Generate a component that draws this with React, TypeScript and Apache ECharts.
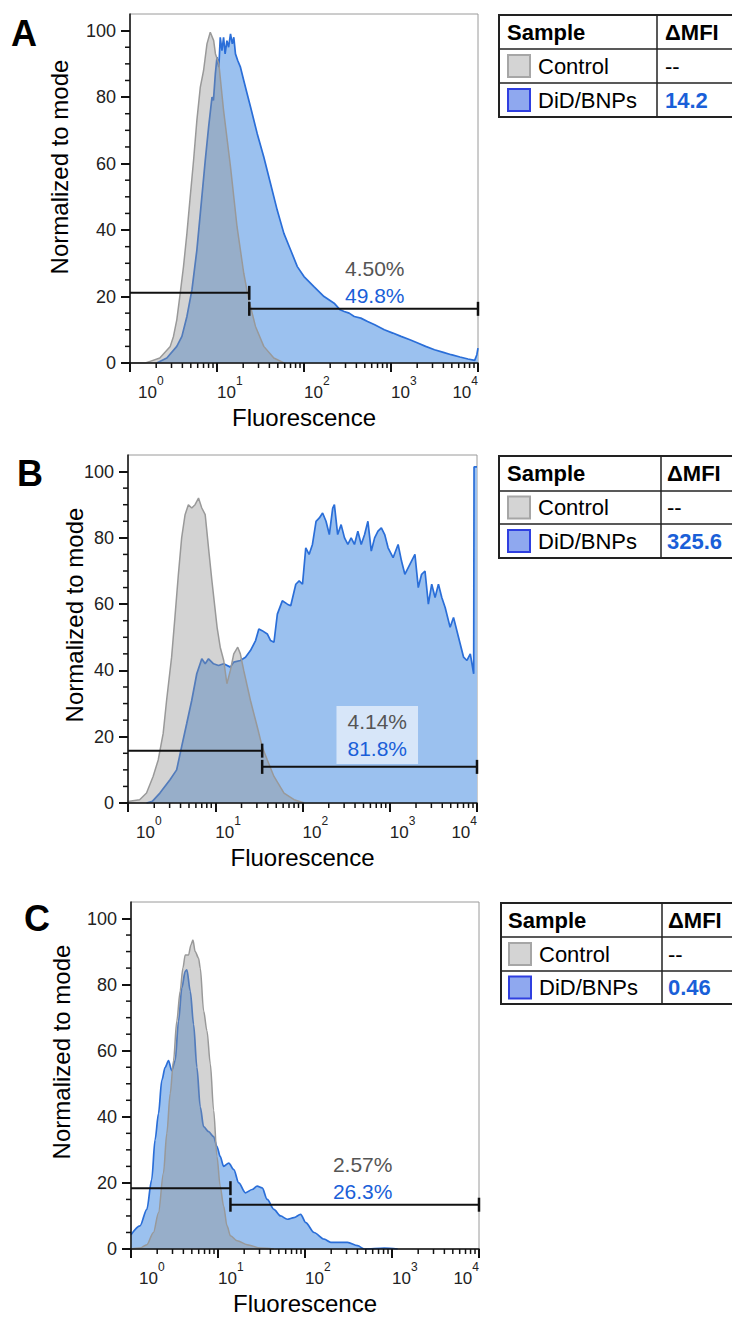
import React, { useEffect, useRef } from 'react';
import * as echarts from 'echarts';

const FONT = '"Liberation Sans", Arial, Helvetica, sans-serif';

// ---------- data: [fluorescence, % of mode] ----------
const controlA: number[][] = [[1,0],[1.5,0],[1.7,0.5],[2.2,1.5],[2.9,5],[3.16,8],[3.45,13],[3.78,21],[4.12,29],[4.51,39],[4.92,50],[5.38,61],[5.87,73],[6.43,83],[7.01,88],[7.67,96],[8.37,99.5],[9.16,97],[9.6,93],[10.5,90],[11.9,76],[14.3,59],[17.0,41],[20.3,27],[23.2,19],[27.7,11],[34.5,5],[45,1.5],[59,0]];
const didA: number[][] = [[2.03,0],[2.65,1.5],[3.45,5],[3.95,8],[4.51,14],[5.15,22],[5.87,34],[6.43,45],[7.33,61],[8.01,71],[8.76,80],[9.1,79],[9.57,87],[10,92],[10.5,89],[10.9,98],[11.4,94],[11.9,98],[12.4,93],[13.0,97],[13.6,95],[14.3,99],[15.0,96],[15.6,98],[16.3,93],[17.3,91],[18.6,89],[20.3,85],[22.2,81],[24.3,77],[29,69],[34.5,62],[41.2,54],[49.2,46],[58.7,39],[70.2,34],[83.8,29],[100,26],[130,23],[170,20],[222,18],[260,16],[290,15.5],[330,15],[378,14],[450,13.5],[538,12.5],[650,11.5],[838,10],[1050,9],[1304,8],[1650,7],[2030,6],[2500,5],[3162,4],[4000,3.2],[4920,2.5],[6200,1.8],[7670,1.2],[9160,0.8],[9700,2.5],[10000,4.5]];

const controlB: number[][] = [[1,0],[1.04,0.5],[1.36,1],[1.63,3],[1.94,8],[2.22,13],[2.53,21],[2.77,31],[3.16,44],[3.45,56],[3.78,69],[4.12,80],[4.51,87],[4.92,90],[5.38,89],[5.87,90],[6.43,92],[7.01,89],[7.67,87],[8.37,77],[9.16,67],[10.5,53],[11.4,47],[12.5,43],[13.6,36],[14.9,40],[16.3,45],[18.1,47],[19.4,45],[21.2,40],[25.3,31],[30.3,23],[34.5,17],[39.5,13],[47.1,8],[61.4,3],[80.1,1],[105,0]];
const didB: number[][] = [[1.63,0],[1.9,0.5],[2.32,3],[3.03,7],[3.61,10],[4.12,17],[4.71,24],[5.38,31],[6.14,39],[6.71,42],[7.01,43.5],[7.67,42],[8.37,43.5],[9.57,42],[10.9,41.5],[12.5,42],[14.9,41],[16.3,42.5],[19.4,43],[22.2,44],[25.3,46],[29,49],[31.6,52.5],[34.5,52],[39.5,51],[43.1,49],[47.1,48.5],[51.5,57],[58.7,61],[67.1,60],[73.3,59.5],[83.8,66],[91.6,67],[100,66],[109,77],[119,75],[130,78],[143,85],[156,86],[170,87.5],[186,85],[203,81],[222,89],[232,90],[253,81],[277,84],[303,80],[331,78],[361,80],[394,78],[431,82],[471,78],[515,81],[562,85],[614,76],[671,80],[733,82],[801,83],[875,81],[957,77],[1092,74],[1247,78],[1364,73],[1490,69],[1629,71],[1943,75],[2123,65],[2318,69],[2535,70],[2770,60],[3027,66],[3307,62],[3614,66],[3948,62],[4315,59],[4920,53],[5380,56],[6140,50],[7020,44],[7670,43],[8380,45],[9160,39],[9250,101.4],[10000,101.4]];

const controlC: number[][] = [[1,0],[1.27,0.3],[1.52,1.3],[1.81,5],[2.07,11],[2.36,23],[2.58,35],[2.82,47],[3.08,57],[3.36,69],[3.67,78],[3.95,85],[4.2,89],[4.59,89],[4.88,92],[5.15,93.5],[5.47,90],[5.98,88],[6.25,85],[6.84,72],[7.47,66],[8.16,56],[8.91,42],[9.73,28],[10.6,19],[11.6,13],[12.7,7],[13.9,4],[16.6,2.5],[21.6,1.3],[30.8,0.3],[43.9,0]];
const didC: number[][] = [[1.0,4.3],[1.27,7],[1.52,12],[1.73,21],[1.89,33],[2.07,41],[2.26,51],[2.47,55],[2.7,57],[2.94,54],[3.22,57],[3.52,69],[3.84,79],[4.2,84],[4.39,84.5],[4.8,78],[5.24,68],[5.72,55],[6.25,43],[6.84,37],[7.8,35.5],[8.91,34],[9.73,31],[10.6,28],[11.6,25],[13.3,26],[15.2,24],[17.3,20],[20.7,17],[24.7,18],[28.2,19],[32.2,18.5],[36.8,15],[43.9,12],[52.4,10],[62.5,9],[74.6,9.5],[89.1,10.5],[102,8],[127,5],[166,3],[198,2],[308,2],[402,1],[480,0],[816,0.3],[1162,0]];

const panelLetters = ['A', 'B', 'C'];
const gateSplitX = [23.5, 34.5, 13.9];
const gateLeftY = [21.1, 15.8, 18.4];
const gateRightY = [16.3, 10.9, 13.4];
const pctControl = ['4.50%', '4.14%', '2.57%'];
const pctDid = ['49.8%', '81.8%', '26.3%'];
const labelAnchor: number[][] = [[650, 24.4], [719, 20.5], [460, 21.4]];
const deltaMFI = ['14.2', '325.6', '0.46'];
const legendNames = ['Control', 'DiD/BNPs'];
const Y_TICKS = [0, 20, 40, 60, 80, 100];
const Y_MINOR = [5, 10, 15, 25, 30, 35, 45, 50, 55, 65, 70, 75, 85, 90, 95];
const X_MINOR = [2, 3, 4, 5, 6, 7, 8, 9, 20, 30, 40, 50, 60, 70, 80, 90, 200, 300, 400, 500, 600, 700, 800, 900, 2000, 3000, 4000, 5000, 6000, 7000, 8000, 9000];

// ---------- layout ----------
const GRIDS = [
  { left: 130, top: 14, width: 348, height: 349 },
  { left: 128, top: 455, width: 349, height: 348 },
  { left: 131, top: 902, width: 348, height: 347 },
];
const LETTER_POS = [[24, 33], [30, 473], [37, 918]];
const YTITLE_POS = [[59, 167], [74, 615], [61, 1052]];
const TABLES = [
  { left: 499, top: 15, div: 657, r1: 49, r2: 83, bottom: 117, sx: 507, vx: 665 },
  { left: 499, top: 456, div: 661, r1: 491, r2: 524, bottom: 558, sx: 507, vx: 667 },
  { left: 501, top: 903, div: 662, r1: 937, r2: 971, bottom: 1004, sx: 508, vx: 668 },
];

const BLUE_LINE = '#2a6ed8';
const BLUE_FILL = '#9bc1ef';
const GREY_LINE = '#999999';
const GREY_FILL = 'rgba(145,145,145,0.4)';
const BLUE_TEXT = '#1a5fd8';

function tableElements(t: any, value: string) {
  const els: any[] = [];
  const lineStyle = { stroke: '#222', lineWidth: 1.5 };
  els.push({ type: 'rect', shape: { x: t.left, y: t.top, width: 820 - t.left, height: t.bottom - t.top }, style: { fill: '#fff', stroke: '#222', lineWidth: 2 } });
  els.push({ type: 'line', shape: { x1: t.left, y1: t.r1, x2: 820, y2: t.r1 }, style: lineStyle });
  els.push({ type: 'line', shape: { x1: t.left, y1: t.r2, x2: 820, y2: t.r2 }, style: lineStyle });
  els.push({ type: 'line', shape: { x1: t.div, y1: t.top, x2: t.div, y2: t.bottom }, style: lineStyle });
  const c0 = (t.top + t.r1) / 2, c1 = (t.r1 + t.r2) / 2, c2 = (t.r2 + t.bottom) / 2;
  const txt = (x: number, y: number, text: string, extra: any = {}) => ({
    type: 'text', x, y, style: { text, fontFamily: FONT, fontSize: 22, fill: '#000', align: 'left', verticalAlign: 'middle', ...extra },
  });
  els.push(txt(t.sx, c0, 'Sample', { fontWeight: 'bold' }));
  els.push(txt(t.vx, c0, 'ΔMFI', { fontWeight: 'bold' }));
  els.push({ type: 'rect', shape: { x: t.sx + 1, y: c1 - 11, width: 22, height: 22 }, style: { fill: '#d4d4d4', stroke: '#a6a6a6', lineWidth: 2 } });
  els.push(txt(t.sx + 31, c1, legendNames[0]));
  els.push(txt(t.vx, c1, '--'));
  els.push({ type: 'rect', shape: { x: t.sx + 1, y: c2 - 11, width: 22, height: 22 }, style: { fill: '#8fa8ef', stroke: '#2f3fe0', lineWidth: 2 } });
  els.push(txt(t.sx + 31, c2, legendNames[1]));
  els.push(txt(t.vx, c2, value, { fontWeight: 'bold', fill: BLUE_TEXT }));
  return els;
}

export default function App() {
  const ref = useRef<HTMLDivElement>(null);
  useEffect(() => {
    const chart = echarts.init(ref.current!, null, { renderer: 'svg' });
    const panels = [
      { ctrl: controlA, did: didA, smooth: false },
      { ctrl: controlB, did: didB, smooth: false },
      { ctrl: controlC, did: didC, smooth: 0.3 },
    ];
    const grid = GRIDS.map((g) => ({ ...g, show: true, borderColor: '#9a9a9a', borderWidth: 1 }));
    const xAxis = GRIDS.map((_, i) => ({
      type: 'log', gridIndex: i, logBase: 10, min: 1, max: 10000, z: 5,
      axisLine: { show: true, onZero: false, lineStyle: { color: '#111', width: 1.5 } },
      axisTick: { show: true, length: 9, lineStyle: { color: '#111', width: 2 } },
      splitLine: { show: false },
      axisLabel: {
        margin: 12, align: 'left', alignMinLabel: 'left', alignMaxLabel: 'right',
        formatter: (v: number) => {
          const e = Math.round(Math.log10(v));
          return (e === 0 ? '{b0|10}' : '{b|10}') + '{s|' + e + '}';
        },
        rich: {
          b: { fontSize: 17, fontFamily: FONT, color: '#222', lineHeight: 26, verticalAlign: 'bottom' },
          b0: { fontSize: 17, fontFamily: FONT, color: '#222', lineHeight: 26, verticalAlign: 'bottom', padding: [0, 0, 0, 8] },
          s: { fontSize: 12, fontFamily: FONT, color: '#222', lineHeight: 10, verticalAlign: 'top' },
        },
      },
      name: 'Fluorescence', nameLocation: 'middle', nameGap: 42,
      nameTextStyle: { fontSize: 24, color: '#000', fontFamily: FONT },
    }));
    const yAxis = GRIDS.map((_, i) => ({
      type: 'value', gridIndex: i, min: 0, max: 105, interval: 20, z: 5,
      axisLine: { show: true, onZero: false, lineStyle: { color: '#111', width: 1.5 } },
      axisTick: { show: true, length: 9, customValues: Y_TICKS, lineStyle: { color: '#111', width: 2 } },
      axisLabel: { customValues: Y_TICKS, fontSize: 18, color: '#222', margin: 14, fontFamily: FONT },
      splitLine: { show: false },
    }));

    const series: any[] = [];
    panels.forEach((p, i) => {
      const ax = { xAxisIndex: i, yAxisIndex: i };
      series.push({ ...ax, type: 'line', name: 'DiD/BNPs', data: p.did, symbol: 'none', smooth: p.smooth, smoothMonotone: 'x', z: 2, silent: true,
        lineStyle: { color: BLUE_LINE, width: 1.7 }, areaStyle: { color: BLUE_FILL, opacity: 1 } });
      series.push({ ...ax, type: 'line', name: 'Control', data: p.ctrl, symbol: 'none', smooth: p.smooth, smoothMonotone: 'x', z: 3, silent: true,
        lineStyle: { color: GREY_LINE, width: 1.5 }, areaStyle: { color: GREY_FILL, opacity: 1 } });
      series.push({ ...ax, type: 'line', data: [[1, gateLeftY[i]], [gateSplitX[i], gateLeftY[i]]], symbol: 'none', z: 4, silent: true,
        lineStyle: { color: '#111', width: 2 } });
      series.push({ ...ax, type: 'line', data: [[gateSplitX[i], gateRightY[i]], [10000, gateRightY[i]]], symbol: 'none', z: 4, silent: true,
        lineStyle: { color: '#111', width: 2 } });
      series.push({ ...ax, type: 'scatter', clip: false, z: 4, silent: true, symbol: 'rect', symbolSize: [2.5, 14], itemStyle: { color: '#111', opacity: 1 },
        data: [[gateSplitX[i], gateLeftY[i]], [gateSplitX[i], gateRightY[i]], [10000, gateRightY[i]]] });
      series.push({ ...ax, type: 'scatter', clip: false, z: 7, silent: true, symbolSize: 1, itemStyle: { color: 'rgba(0,0,0,0)', opacity: 1 },
        data: [labelAnchor[i]],
        label: {
          show: true, position: 'inside', opacity: 1,
          formatter: '{g|' + pctControl[i] + '}\n{b|' + pctDid[i] + '}',
          backgroundColor: i === 1 ? 'rgba(255,255,255,0.6)' : 'transparent',
          padding: i === 1 ? [2, 11, 2, 11] : 0,
          rich: {
            g: { fontSize: 21, color: '#555', lineHeight: 27, fontFamily: FONT },
            b: { fontSize: 21, color: BLUE_TEXT, lineHeight: 27, fontFamily: FONT },
          },
        } });
      series.push({ ...ax, type: 'custom', clip: false, silent: true, z: 6,
        data: X_MINOR.map((v) => [v, 0]),
        renderItem: (_p: any, api: any) => {
          const c = api.coord([api.value(0), 0]);
          return { type: 'line', shape: { x1: c[0], y1: c[1], x2: c[0], y2: c[1] + 5 }, style: { stroke: '#111', lineWidth: 1.5 } };
        } });
      series.push({ ...ax, type: 'custom', clip: false, silent: true, z: 6,
        data: Y_MINOR.map((v) => [1, v]),
        renderItem: (_p: any, api: any) => {
          const c = api.coord([1, api.value(1)]);
          return { type: 'line', shape: { x1: c[0] - 5, y1: c[1], x2: c[0], y2: c[1] }, style: { stroke: '#111', lineWidth: 1.5 } };
        } });
    });

    const graphic: any[] = [];
    panelLetters.forEach((L, i) => {
      graphic.push({ type: 'text', x: LETTER_POS[i][0], y: LETTER_POS[i][1],
        style: { text: L, fontFamily: FONT, fontWeight: 'bold', fontSize: 36, fill: '#000', align: 'center', verticalAlign: 'middle' } });
      graphic.push({ type: 'text', x: YTITLE_POS[i][0], y: YTITLE_POS[i][1], rotation: Math.PI / 2,
        style: { text: 'Normalized to mode', fontFamily: FONT, fontSize: 24, fill: '#000', align: 'center', verticalAlign: 'middle' } });
      graphic.push({ type: 'group', children: tableElements(TABLES[i], deltaMFI[i]) });
    });

    chart.setOption({ animation: false, grid, xAxis, yAxis, series, graphic });
    return () => chart.dispose();
  }, []);
  return <div ref={ref} style={{ position: 'absolute', left: 0, top: 0, width: 732, height: 1317, background: '#fff' }} />;
}
